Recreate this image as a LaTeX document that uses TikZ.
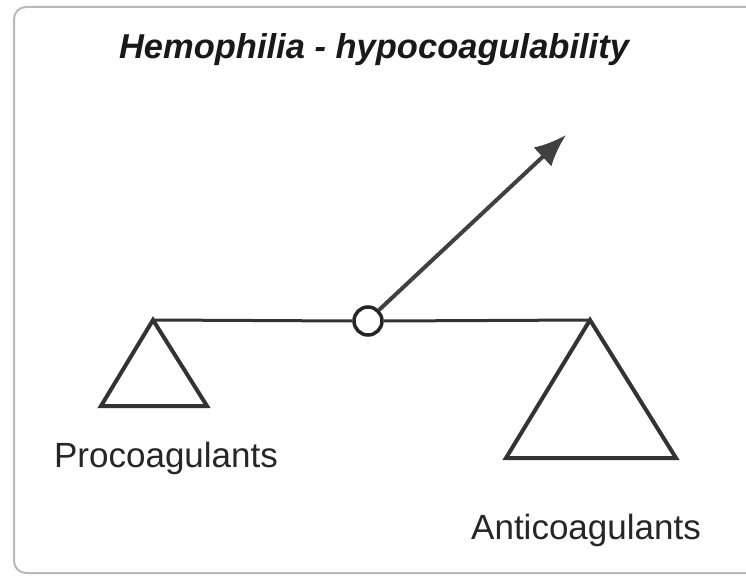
\documentclass[tikz,border=0pt]{standalone}
\usepackage{fontspec}
\setmainfont{Liberation Sans}
\usetikzlibrary{arrows.meta,positioning}

\begin{document}
\begin{tikzpicture}[x=1pt, y=-1pt,
  frame/.style={draw=gray!55, line width=2pt, rounded corners=12pt, fill=white},
  beam/.style={draw=black!80, line width=3pt},
  pan/.style={draw=black!80, line width=4pt, line join=miter},
  pivot/.style={circle, draw=black!85, line width=3.5pt, fill=white, inner sep=0pt, minimum size=28pt},
  arr/.style={-{Latex[length=32pt, width=26pt]}, draw=black!75, line width=4pt},
  label/.style={font=\fontsize{35}{40}\selectfont, text=black!85},
  heading/.style={font=\fontsize{34.5}{40}\selectfont\bfseries\itshape, text=black!90}
]
\useasboundingbox (0,0) rectangle (746,577);
\path[frame] (14,7) rectangle (770,573);

\node[heading] (title) at (374,50) {Hemophilia - hypocoagulability};

\coordinate (la) at (153,320);
\coordinate (ra) at (590,320);
\node[pivot] (piv) at (368,321) {};
\coordinate (tip) at (566,135);

\draw[beam] (la) -- (piv.west);
\draw[beam] (piv.east) -- (ra);
\draw[arr] (piv.45) -- (tip);

\draw[pan] (la) -- (207,406) -- (101,406) -- cycle;
\draw[pan] (ra) -- (676,458) -- (506,458) -- cycle;

\node[label] (pro) at (166,458) {Procoagulants};
\node[label] (anti) at (586,530) {Anticoagulants};
\end{tikzpicture}
\end{document}
